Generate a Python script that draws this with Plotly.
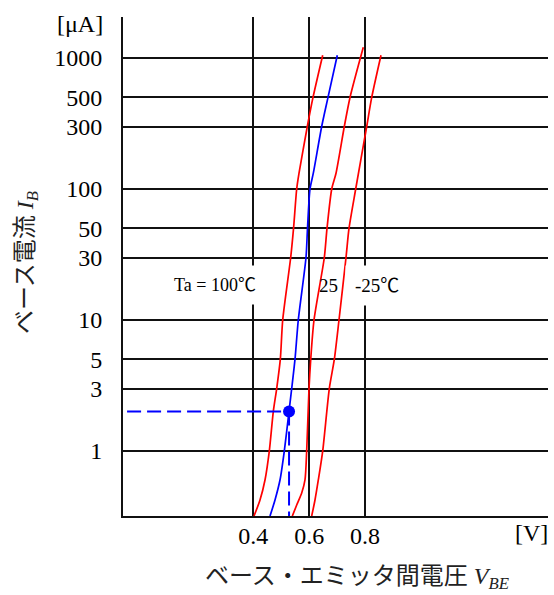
import plotly.graph_objects as go

# ---- data ----
ib_ticks = [1, 3, 5, 10, 30, 50, 100, 300, 500, 1000]
vbe_ticks = [0.4, 0.6, 0.8]

# Ta = 100 C (red)
t100_vbe = [0.4025, 0.4240, 0.4419, 0.4573, 0.4716, 0.4838, 0.4967, 0.5053, 0.5339, 0.5441, 0.5554, 0.5637, 0.5934, 0.6138, 0.6485]
t100_ib = [0.319, 0.423, 0.601, 1, 2, 3, 5, 10, 30, 50, 100, 132, 300, 500, 1050]

# highlighted curve (blue)
blue_vbe = [0.4598, 0.4777, 0.4956, 0.5110, 0.5278, 0.5375, 0.5493, 0.5611, 0.5887, 0.5941, 0.6030, 0.6149, 0.6449, 0.6675, 0.7008]
blue_ib = [0.319, 0.423, 0.601, 1, 2, 3, 5, 10, 30, 50, 100, 132, 300, 500, 1050]

# Ta = 25 C (red)
t25_vbe = [0.5397, 0.5554, 0.5733, 0.5851, 0.5912, 0.5995, 0.6056, 0.6174, 0.6543, 0.6639, 0.6808, 0.6962, 0.7259, 0.7463, 0.7939]
t25_ib = [0.319, 0.387, 0.478, 0.601, 1, 3, 5, 10, 30, 50, 100, 132, 300, 500, 1207]

# Ta = -25 C (red)
tm25_vbe = [0.6091, 0.6209, 0.6328, 0.6485, 0.6722, 0.6901, 0.7069, 0.7320, 0.7427, 0.7667, 0.8061, 0.8240, 0.8573]
tm25_ib = [0.319, 0.423, 0.601, 1, 3, 5, 10, 30, 50, 100, 300, 500, 1050]

# operating point
op_vbe = 0.528
op_ib = 2.0
x_min, x_max = -0.0666, 1.4553
y_min_log, y_max_log = -0.496, 3.313
y_bottom = 10 ** y_min_log

SERIF = "Liberation Serif, Noto Sans CJK JP"

fig = go.Figure()

curve_line = dict(width=1.7, shape="spline", smoothing=0.7)
for xs, ys, col in [(t100_vbe, t100_ib, "#ff0000"), (blue_vbe, blue_ib, "#0000ff"),
                    (t25_vbe, t25_ib, "#ff0000"), (tm25_vbe, tm25_ib, "#ff0000")]:
    fig.add_trace(go.Scatter(x=xs, y=ys, mode="lines", line=dict(color=col, **curve_line),
                             showlegend=False, hoverinfo="skip"))

# dashed guides
fig.add_trace(go.Scatter(x=[-0.052, op_vbe], y=[op_ib, op_ib], mode="lines",
                         line=dict(color="#0000ff", width=2, dash="14px,6px"),
                         showlegend=False, hoverinfo="skip"))
fig.add_trace(go.Scatter(x=[op_vbe, op_vbe], y=[op_ib, y_bottom], mode="lines",
                         line=dict(color="#0000ff", width=2, dash="14px,6px"),
                         showlegend=False, hoverinfo="skip"))
fig.add_trace(go.Scatter(x=[op_vbe], y=[op_ib], mode="markers",
                         marker=dict(color="#0000ff", size=12),
                         showlegend=False, hoverinfo="skip"))

fig.update_layout(
    width=554, height=595, autosize=False,
    margin=dict(l=123, r=6, t=17, b=79),
    paper_bgcolor="white", plot_bgcolor="white",
    font=dict(family=SERIF, size=24, color="black"),
    xaxis=dict(range=[x_min, x_max], tickvals=vbe_ticks, ticktext=[str(v) for v in vbe_ticks],
               showgrid=True, gridcolor="#111", gridwidth=2, zeroline=False,
               showline=True, linecolor="#111", linewidth=2, ticks="",
               ticklabelstandoff=-3,
               tickfont=dict(family=SERIF, size=24, color="black")),
    yaxis=dict(type="log", range=[y_min_log, y_max_log], tickvals=ib_ticks,
               ticktext=[str(v) for v in ib_ticks],
               showgrid=True, gridcolor="#111", gridwidth=2, zeroline=False,
               showline=True, linecolor="#111", linewidth=2, ticks="",
               ticklabelstandoff=14,
               tickfont=dict(family=SERIF, size=24, color="black")),
    annotations=[
        dict(text="Ta = 100℃", x=0.263, y=1.267, xref="x", yref="y", showarrow=False,
             font=dict(family=SERIF, size=18, color="black"), bgcolor="white", borderpad=9),
        dict(text="25", x=0.671, y=1.267, xref="x", yref="y", showarrow=False,
             font=dict(family=SERIF, size=19, color="black")),
        dict(text="-25℃", x=0.843, y=1.267, xref="x", yref="y", showarrow=False,
             font=dict(family=SERIF, size=19, color="black"), bgcolor="white", borderpad=9),
        dict(text="[μA]", x=-0.0424, y=0.986, xref="paper", yref="paper", xanchor="right",
             yanchor="middle", showarrow=False, font=dict(family=SERIF, size=24, color="black")),
        dict(text="[V]", x=0.96, y=-0.034, xref="paper", yref="paper", xanchor="center",
             yanchor="middle", showarrow=False, font=dict(family=SERIF, size=24, color="black")),
        dict(text="ベース・エミッタ間電圧 <i>V</i><sub><i>BE</i></sub>", x=0.551, y=-0.124,
             xref="paper", yref="paper", xanchor="center", yanchor="middle", showarrow=False,
             font=dict(family=SERIF, size=24, color="#222")),
        dict(text="ベース電流 <i>I</i><sub><i>B</i></sub>", x=-0.226, y=0.509, textangle=-90,
             xref="paper", yref="paper", xanchor="center", yanchor="middle", showarrow=False,
             font=dict(family=SERIF, size=24, color="#222")),
    ],
)

fig.write_html("out.html")
